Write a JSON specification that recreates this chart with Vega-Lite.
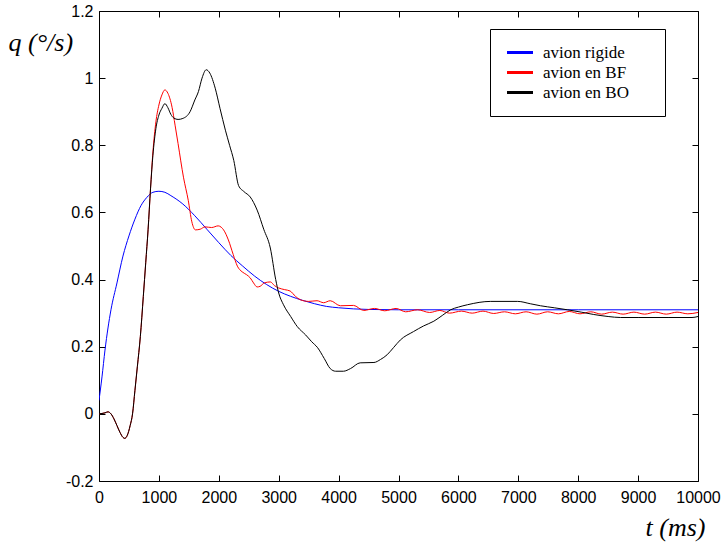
{
  "$schema": "https://vega.github.io/schema/vega-lite/v6.json",
  "width": 599,
  "height": 470,
  "autosize": {"type": "none"},
  "padding": {"left": 99, "top": 11, "right": 25, "bottom": 69},
  "background": "white",
  "config": {
    "view": {"stroke": "black", "strokeWidth": 1},
    "axis": {
      "grid": false,
      "domain": false,
      "tickColor": "black",
      "tickSize": -6,
      "labelColor": "black",
      "labelFont": "Liberation Sans",
      "labelFontSize": 16,
      "titleColor": "black",
      "titleFont": "Liberation Serif",
      "titleFontStyle": "italic",
      "titleFontWeight": "normal",
      "titleFontSize": 26
    },
    "legend": {"labelFont": "Liberation Serif", "labelFontSize": 17}
  },
  "data": {
    "values": [
      {"s": "avion rigide", "t": 0, "q": 0.04},
      {"s": "avion rigide", "t": 50, "q": 0.11},
      {"s": "avion rigide", "t": 100, "q": 0.19},
      {"s": "avion rigide", "t": 200, "q": 0.31},
      {"s": "avion rigide", "t": 300, "q": 0.39},
      {"s": "avion rigide", "t": 400, "q": 0.47},
      {"s": "avion rigide", "t": 500, "q": 0.53},
      {"s": "avion rigide", "t": 600, "q": 0.58},
      {"s": "avion rigide", "t": 700, "q": 0.62},
      {"s": "avion rigide", "t": 800, "q": 0.645},
      {"s": "avion rigide", "t": 900, "q": 0.66},
      {"s": "avion rigide", "t": 1000, "q": 0.663},
      {"s": "avion rigide", "t": 1100, "q": 0.66},
      {"s": "avion rigide", "t": 1200, "q": 0.65},
      {"s": "avion rigide", "t": 1400, "q": 0.625},
      {"s": "avion rigide", "t": 1600, "q": 0.59},
      {"s": "avion rigide", "t": 1800, "q": 0.55},
      {"s": "avion rigide", "t": 2000, "q": 0.51},
      {"s": "avion rigide", "t": 2200, "q": 0.472},
      {"s": "avion rigide", "t": 2400, "q": 0.44},
      {"s": "avion rigide", "t": 2600, "q": 0.41},
      {"s": "avion rigide", "t": 2800, "q": 0.385},
      {"s": "avion rigide", "t": 3000, "q": 0.365},
      {"s": "avion rigide", "t": 3200, "q": 0.35},
      {"s": "avion rigide", "t": 3400, "q": 0.338},
      {"s": "avion rigide", "t": 3600, "q": 0.328},
      {"s": "avion rigide", "t": 3800, "q": 0.32},
      {"s": "avion rigide", "t": 4000, "q": 0.316},
      {"s": "avion rigide", "t": 4500, "q": 0.311},
      {"s": "avion rigide", "t": 5000, "q": 0.31},
      {"s": "avion rigide", "t": 6000, "q": 0.31},
      {"s": "avion rigide", "t": 8000, "q": 0.31},
      {"s": "avion rigide", "t": 10000, "q": 0.31},

      {"s": "avion en BF", "t": 0, "q": 0},
      {"s": "avion en BF", "t": 100, "q": 0.003},
      {"s": "avion en BF", "t": 150, "q": 0.006},
      {"s": "avion en BF", "t": 200, "q": 0.0},
      {"s": "avion en BF", "t": 250, "q": -0.015},
      {"s": "avion en BF", "t": 300, "q": -0.035},
      {"s": "avion en BF", "t": 350, "q": -0.055},
      {"s": "avion en BF", "t": 400, "q": -0.07},
      {"s": "avion en BF", "t": 430, "q": -0.073},
      {"s": "avion en BF", "t": 470, "q": -0.065},
      {"s": "avion en BF", "t": 520, "q": -0.035},
      {"s": "avion en BF", "t": 560, "q": 0.0},
      {"s": "avion en BF", "t": 600, "q": 0.07},
      {"s": "avion en BF", "t": 640, "q": 0.14},
      {"s": "avion en BF", "t": 690, "q": 0.23},
      {"s": "avion en BF", "t": 740, "q": 0.35},
      {"s": "avion en BF", "t": 780, "q": 0.45},
      {"s": "avion en BF", "t": 820, "q": 0.55},
      {"s": "avion en BF", "t": 860, "q": 0.67},
      {"s": "avion en BF", "t": 900, "q": 0.78},
      {"s": "avion en BF", "t": 950, "q": 0.87},
      {"s": "avion en BF", "t": 1000, "q": 0.92},
      {"s": "avion en BF", "t": 1050, "q": 0.95},
      {"s": "avion en BF", "t": 1100, "q": 0.965},
      {"s": "avion en BF", "t": 1150, "q": 0.955},
      {"s": "avion en BF", "t": 1220, "q": 0.913},
      {"s": "avion en BF", "t": 1270, "q": 0.86},
      {"s": "avion en BF", "t": 1320, "q": 0.805},
      {"s": "avion en BF", "t": 1410, "q": 0.705},
      {"s": "avion en BF", "t": 1490, "q": 0.636},
      {"s": "avion en BF", "t": 1550, "q": 0.572},
      {"s": "avion en BF", "t": 1610, "q": 0.548},
      {"s": "avion en BF", "t": 1690, "q": 0.55},
      {"s": "avion en BF", "t": 1770, "q": 0.557},
      {"s": "avion en BF", "t": 1880, "q": 0.555},
      {"s": "avion en BF", "t": 1990, "q": 0.56},
      {"s": "avion en BF", "t": 2040, "q": 0.556},
      {"s": "avion en BF", "t": 2080, "q": 0.548},
      {"s": "avion en BF", "t": 2160, "q": 0.518},
      {"s": "avion en BF", "t": 2240, "q": 0.475},
      {"s": "avion en BF", "t": 2310, "q": 0.44},
      {"s": "avion en BF", "t": 2390, "q": 0.423},
      {"s": "avion en BF", "t": 2460, "q": 0.415},
      {"s": "avion en BF", "t": 2525, "q": 0.405},
      {"s": "avion en BF", "t": 2580, "q": 0.39},
      {"s": "avion en BF", "t": 2640, "q": 0.378},
      {"s": "avion en BF", "t": 2690, "q": 0.38},
      {"s": "avion en BF", "t": 2760, "q": 0.39},
      {"s": "avion en BF", "t": 2860, "q": 0.393},
      {"s": "avion en BF", "t": 2930, "q": 0.382},
      {"s": "avion en BF", "t": 3000, "q": 0.375},
      {"s": "avion en BF", "t": 3100, "q": 0.37},
      {"s": "avion en BF", "t": 3190, "q": 0.366},
      {"s": "avion en BF", "t": 3280, "q": 0.35},
      {"s": "avion en BF", "t": 3360, "q": 0.34},
      {"s": "avion en BF", "t": 3500, "q": 0.335},
      {"s": "avion en BF", "t": 3640, "q": 0.337},
      {"s": "avion en BF", "t": 3750, "q": 0.331},
      {"s": "avion en BF", "t": 3860, "q": 0.337},
      {"s": "avion en BF", "t": 4030, "q": 0.322},
      {"s": "avion en BF", "t": 4250, "q": 0.323},
      {"s": "avion en BF", "t": 4420, "q": 0.308},
      {"s": "avion en BF", "t": 4600, "q": 0.314},
      {"s": "avion en BF", "t": 4770, "q": 0.307},
      {"s": "avion en BF", "t": 4960, "q": 0.314},
      {"s": "avion en BF", "t": 5120, "q": 0.304},
      {"s": "avion en BF", "t": 5320, "q": 0.31},
      {"s": "avion en BF", "t": 5520, "q": 0.302},
      {"s": "avion en BF", "t": 5690, "q": 0.308},
      {"s": "avion en BF", "t": 5850, "q": 0.3},
      {"s": "avion en BF", "t": 6050, "q": 0.306},
      {"s": "avion en BF", "t": 6230, "q": 0.3},
      {"s": "avion en BF", "t": 6410, "q": 0.306},
      {"s": "avion en BF", "t": 6590, "q": 0.299},
      {"s": "avion en BF", "t": 6770, "q": 0.304},
      {"s": "avion en BF", "t": 6950, "q": 0.298},
      {"s": "avion en BF", "t": 7130, "q": 0.304},
      {"s": "avion en BF", "t": 7310, "q": 0.297},
      {"s": "avion en BF", "t": 7490, "q": 0.304},
      {"s": "avion en BF", "t": 7670, "q": 0.298},
      {"s": "avion en BF", "t": 7850, "q": 0.305},
      {"s": "avion en BF", "t": 8030, "q": 0.298},
      {"s": "avion en BF", "t": 8210, "q": 0.304},
      {"s": "avion en BF", "t": 8390, "q": 0.297},
      {"s": "avion en BF", "t": 8570, "q": 0.303},
      {"s": "avion en BF", "t": 8750, "q": 0.297},
      {"s": "avion en BF", "t": 8930, "q": 0.303},
      {"s": "avion en BF", "t": 9110, "q": 0.297},
      {"s": "avion en BF", "t": 9290, "q": 0.303},
      {"s": "avion en BF", "t": 9470, "q": 0.297},
      {"s": "avion en BF", "t": 9650, "q": 0.303},
      {"s": "avion en BF", "t": 9830, "q": 0.298},
      {"s": "avion en BF", "t": 10000, "q": 0.302},

      {"s": "avion en BO", "t": 0, "q": 0},
      {"s": "avion en BO", "t": 100, "q": 0.003},
      {"s": "avion en BO", "t": 150, "q": 0.006},
      {"s": "avion en BO", "t": 200, "q": 0.0},
      {"s": "avion en BO", "t": 250, "q": -0.015},
      {"s": "avion en BO", "t": 300, "q": -0.035},
      {"s": "avion en BO", "t": 350, "q": -0.055},
      {"s": "avion en BO", "t": 400, "q": -0.07},
      {"s": "avion en BO", "t": 430, "q": -0.073},
      {"s": "avion en BO", "t": 470, "q": -0.065},
      {"s": "avion en BO", "t": 520, "q": -0.035},
      {"s": "avion en BO", "t": 560, "q": 0.0},
      {"s": "avion en BO", "t": 600, "q": 0.07},
      {"s": "avion en BO", "t": 640, "q": 0.14},
      {"s": "avion en BO", "t": 690, "q": 0.23},
      {"s": "avion en BO", "t": 740, "q": 0.35},
      {"s": "avion en BO", "t": 780, "q": 0.45},
      {"s": "avion en BO", "t": 820, "q": 0.55},
      {"s": "avion en BO", "t": 860, "q": 0.67},
      {"s": "avion en BO", "t": 900, "q": 0.77},
      {"s": "avion en BO", "t": 950, "q": 0.85},
      {"s": "avion en BO", "t": 1000, "q": 0.89},
      {"s": "avion en BO", "t": 1050, "q": 0.91},
      {"s": "avion en BO", "t": 1100, "q": 0.924},
      {"s": "avion en BO", "t": 1150, "q": 0.912},
      {"s": "avion en BO", "t": 1200, "q": 0.892},
      {"s": "avion en BO", "t": 1250, "q": 0.881},
      {"s": "avion en BO", "t": 1320, "q": 0.877},
      {"s": "avion en BO", "t": 1400, "q": 0.88},
      {"s": "avion en BO", "t": 1520, "q": 0.9},
      {"s": "avion en BO", "t": 1600, "q": 0.935},
      {"s": "avion en BO", "t": 1660, "q": 0.96},
      {"s": "avion en BO", "t": 1720, "q": 1.0},
      {"s": "avion en BO", "t": 1790, "q": 1.025},
      {"s": "avion en BO", "t": 1850, "q": 1.015},
      {"s": "avion en BO", "t": 1940, "q": 0.97},
      {"s": "avion en BO", "t": 2020, "q": 0.91},
      {"s": "avion en BO", "t": 2110, "q": 0.845},
      {"s": "avion en BO", "t": 2180, "q": 0.8},
      {"s": "avion en BO", "t": 2250, "q": 0.755},
      {"s": "avion en BO", "t": 2330, "q": 0.68},
      {"s": "avion en BO", "t": 2420, "q": 0.662},
      {"s": "avion en BO", "t": 2525, "q": 0.646},
      {"s": "avion en BO", "t": 2580, "q": 0.63},
      {"s": "avion en BO", "t": 2640, "q": 0.607},
      {"s": "avion en BO", "t": 2750, "q": 0.55},
      {"s": "avion en BO", "t": 2860, "q": 0.494},
      {"s": "avion en BO", "t": 2950, "q": 0.4},
      {"s": "avion en BO", "t": 3000, "q": 0.36},
      {"s": "avion en BO", "t": 3080, "q": 0.325},
      {"s": "avion en BO", "t": 3200, "q": 0.29},
      {"s": "avion en BO", "t": 3310, "q": 0.26},
      {"s": "avion en BO", "t": 3450, "q": 0.235},
      {"s": "avion en BO", "t": 3550, "q": 0.215},
      {"s": "avion en BO", "t": 3650, "q": 0.197},
      {"s": "avion en BO", "t": 3760, "q": 0.165},
      {"s": "avion en BO", "t": 3860, "q": 0.135},
      {"s": "avion en BO", "t": 3950, "q": 0.127},
      {"s": "avion en BO", "t": 4080, "q": 0.127},
      {"s": "avion en BO", "t": 4200, "q": 0.135},
      {"s": "avion en BO", "t": 4360, "q": 0.152},
      {"s": "avion en BO", "t": 4590, "q": 0.153},
      {"s": "avion en BO", "t": 4700, "q": 0.162},
      {"s": "avion en BO", "t": 4810, "q": 0.176},
      {"s": "avion en BO", "t": 4920, "q": 0.198},
      {"s": "avion en BO", "t": 5030, "q": 0.22},
      {"s": "avion en BO", "t": 5250, "q": 0.245},
      {"s": "avion en BO", "t": 5420, "q": 0.262},
      {"s": "avion en BO", "t": 5590, "q": 0.276},
      {"s": "avion en BO", "t": 5730, "q": 0.293},
      {"s": "avion en BO", "t": 5870, "q": 0.31},
      {"s": "avion en BO", "t": 6000, "q": 0.318},
      {"s": "avion en BO", "t": 6150, "q": 0.325},
      {"s": "avion en BO", "t": 6540, "q": 0.335},
      {"s": "avion en BO", "t": 6990, "q": 0.335},
      {"s": "avion en BO", "t": 7200, "q": 0.328},
      {"s": "avion en BO", "t": 7370, "q": 0.322},
      {"s": "avion en BO", "t": 7600, "q": 0.316},
      {"s": "avion en BO", "t": 7820, "q": 0.31},
      {"s": "avion en BO", "t": 8050, "q": 0.303},
      {"s": "avion en BO", "t": 8260, "q": 0.296},
      {"s": "avion en BO", "t": 8500, "q": 0.29},
      {"s": "avion en BO", "t": 8710, "q": 0.287},
      {"s": "avion en BO", "t": 9000, "q": 0.287},
      {"s": "avion en BO", "t": 9500, "q": 0.287},
      {"s": "avion en BO", "t": 9900, "q": 0.287},
      {"s": "avion en BO", "t": 10000, "q": 0.29}
    ]
  },
  "layer": [
    {
      "mark": {"type": "line", "strokeWidth": 1, "interpolate": "monotone", "clip": true},
      "encoding": {
        "x": {
          "field": "t", "type": "quantitative",
          "scale": {"domain": [0, 10000], "nice": false, "zero": false},
          "axis": {"values": [0,1000,2000,3000,4000,5000,6000,7000,8000,9000,10000], "format": "d", "labelPadding": 14, "title": "t (ms)", "titleAnchor": "start", "titleAlign": "left", "titleX": 546, "titleY": 54, "titleBaseline": "alphabetic", "labelFlush": false}
        },
        "y": {
          "field": "q", "type": "quantitative",
          "scale": {"domain": [-0.2, 1.2], "nice": false, "zero": false},
          "axis": {"values": [-0.2,0,0.2,0.4,0.6,0.8,1,1.2], "labelExpr": "replace(format(datum.value, '.1~f'), '\u2212', '-')", "labelPadding": 12, "title": "q (°/s)", "titleAngle": 0, "titleAlign": "left", "titleBaseline": "alphabetic", "titleX": -91, "titleY": 39, "labelFlush": false}
        },
        "color": {
          "field": "s", "type": "nominal",
          "scale": {"domain": ["avion rigide", "avion en BF", "avion en BO"], "range": ["#0000ff", "#ff0000", "#000000"]},
          "sort": ["avion rigide", "avion en BF", "avion en BO"],
          "legend": {
            "title": "\u2007",
            "titleOrient": "right",
            "titlePadding": 21,
            "titleFontSize": 4,
            "orient": "none",
            "legendX": 391,
            "legendY": 18,
            "strokeColor": "black",
            "fillColor": "white",
            "padding": 15,
            "symbolType": "M-1,0H3",
            "symbolSize": 169,
            "symbolStrokeWidth": 3,
            "symbolFillColor": "transparent",
            "labelFont": "Liberation Serif",
            "labelFontSize": 17,
            "labelColor": "black",
            "labelOffset": 21,
            "rowPadding": 2
          }
        }
      }
    },
    {
      "mark": {"type": "rule", "opacity": 0},
      "encoding": {
        "x": {"datum": 0, "type": "quantitative", "axis": {"orient": "top", "values": [0,1000,2000,3000,4000,5000,6000,7000,8000,9000,10000], "labels": false, "title": null}},
        "y": {"datum": 0, "type": "quantitative", "axis": {"orient": "right", "values": [-0.2,0,0.2,0.4,0.6,0.8,1,1.2], "labels": false, "title": null}}
      }
    }
  ],
  "resolve": {"axis": {"x": "independent", "y": "independent"}}
}
